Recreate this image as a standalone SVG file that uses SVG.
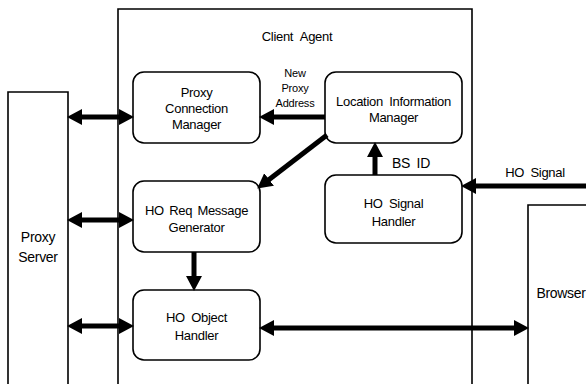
<svg xmlns="http://www.w3.org/2000/svg" width="586" height="384" viewBox="0 0 586 384">
  <style>
    text { font-family: "Liberation Sans", Arial, sans-serif; fill: #000; text-anchor: middle; }
    .lbl { font-size: 13px; letter-spacing: -0.3px; }
    .sm { font-size: 11px; letter-spacing: -0.2px; }
    .big { font-size: 14px; letter-spacing: -0.3px; }
    .box { fill: #fff; stroke: #000; stroke-width: 1.6; }
    .frame { fill: none; stroke: #000; stroke-width: 1.6; }
    .conn { stroke: #000; stroke-width: 5; fill: none; }
  </style>
  <defs>
    <marker id="head" markerUnits="userSpaceOnUse" markerWidth="16" markerHeight="18" viewBox="0 0 16 18" refX="2" refY="9" orient="auto-start-reverse">
      <path d="M0,1 L15,9 L0,17 Z" fill="#000"/>
    </marker>
  </defs>

  <rect width="586" height="384" fill="#fff"/>

  <!-- outer blocks -->
  <g id="client-agent">
    <path class="frame" d="M118,384 V9 H472 V384"/>
    <text class="lbl" x="297" y="41" word-spacing="4">Client Agent</text>
  </g>
  <g id="proxy-server">
    <path class="frame" d="M8,384 V92 H68 V384"/>
    <text class="big" x="38" y="242">Proxy</text>
    <text class="big" x="38" y="262">Server</text>
  </g>
  <g id="browser">
    <path class="frame" d="M528,384 V205 H590"/>
    <text class="big" x="561" y="298">Browser</text>
  </g>

  <!-- inner modules -->
  <g id="proxy-connection-manager">
    <rect class="box" x="133" y="72" width="127" height="71" rx="11"/>
    <text class="lbl" x="196.5" y="97">Proxy</text>
    <text class="lbl" x="196.5" y="113">Connection</text>
    <text class="lbl" x="196.5" y="129">Manager</text>
  </g>
  <g id="location-information-manager">
    <rect class="box" x="325" y="72" width="137" height="71" rx="11"/>
    <text class="lbl" x="393.5" y="106" word-spacing="3">Location Information</text>
    <text class="lbl" x="393.5" y="122">Manager</text>
  </g>
  <g id="ho-req-message-generator">
    <rect class="box" x="133" y="181" width="127" height="71" rx="11"/>
    <text class="lbl" x="196.5" y="215" word-spacing="2">HO Req Message</text>
    <text class="lbl" x="196.5" y="232">Generator</text>
  </g>
  <g id="ho-signal-handler">
    <rect class="box" x="325" y="175" width="137" height="68" rx="11"/>
    <text class="lbl" x="393.5" y="208" word-spacing="3">HO Signal</text>
    <text class="lbl" x="393.5" y="226">Handler</text>
  </g>
  <g id="ho-object-handler">
    <rect class="box" x="133" y="290" width="127" height="70" rx="11"/>
    <text class="lbl" x="196.5" y="322" word-spacing="3">HO Object</text>
    <text class="lbl" x="196.5" y="340">Handler</text>
  </g>

  <!-- connectors -->
  <g id="connectors">
    <line class="conn" x1="80" y1="117" x2="121" y2="117" marker-start="url(#head)" marker-end="url(#head)"/>
    <line class="conn" x1="80" y1="220" x2="121" y2="220" marker-start="url(#head)" marker-end="url(#head)"/>
    <line class="conn" x1="80" y1="326" x2="121" y2="326" marker-start="url(#head)" marker-end="url(#head)"/>
    <line class="conn" x1="325" y1="117" x2="272" y2="117" marker-end="url(#head)"/>
    <line class="conn" x1="327" y1="135" x2="267.5" y2="180.7" marker-end="url(#head)"/>
    <line class="conn" x1="194" y1="252" x2="194" y2="278" marker-end="url(#head)"/>
    <line class="conn" x1="375" y1="175" x2="375" y2="155" marker-end="url(#head)"/>
    <line class="conn" x1="586" y1="186" x2="474" y2="186" marker-end="url(#head)"/>
    <line class="conn" x1="272" y1="328" x2="516" y2="328" marker-start="url(#head)" marker-end="url(#head)"/>
  </g>

  <!-- connector labels -->
  <g id="connector-labels">
    <text class="sm" x="295" y="77">New</text>
    <text class="sm" x="295" y="92">Proxy</text>
    <text class="sm" x="295" y="107">Address</text>
    <text class="big" x="411" y="168" word-spacing="3">BS ID</text>
    <text class="lbl" x="535" y="177" word-spacing="3">HO Signal</text>
  </g>
</svg>
